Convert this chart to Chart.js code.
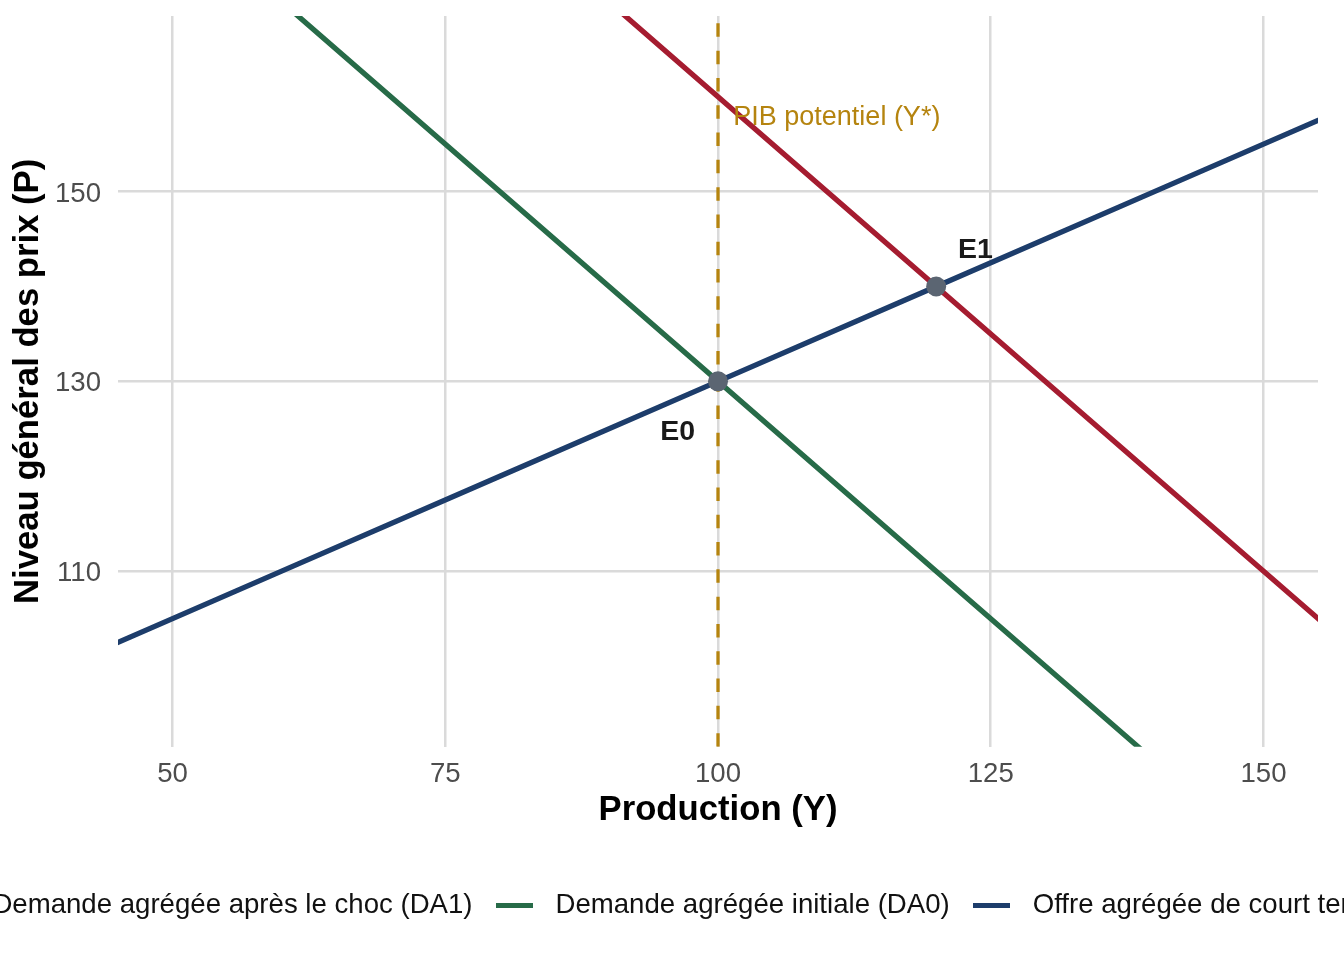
<!DOCTYPE html>
<html lang="fr">
<head>
<meta charset="utf-8">
<title>Offre et demande agrégées</title>
<script src="https://cdn.jsdelivr.net/npm/chart.js@4.4.1/dist/chart.umd.min.js"></script>
<style>
  html, body { margin:0; padding:0; background:#ffffff; width:1344px; height:960px; overflow:hidden; }
  #wrap { position:absolute; top:0; left:-200px; width:2000px; height:960px; }
</style>
</head>
<body>
<div id="wrap"><canvas id="chart"></canvas></div>
<script>
// ---------------- data ----------------
const outputLevels   = [40, 60, 80, 100, 120, 140, 160];
const demandShock    = [220, 200, 180, 160, 140, 120, 100]; // DA1
const demandInitial  = [190, 170, 150, 130, 110, 90, 70];   // DA0
const supplyShortRun = [100, 110, 120, 130, 140, 150, 160]; // offre CT
const potentialOutput = [100, 100];
const potentialPrice  = [80, 180];
const equilibriumNames  = ['E0', 'E1'];
const equilibriumOutput = [100, 120];
const equilibriumPrice  = [130, 140];
const equilibriumLabelOutput = [96.3, 123.6];
const equilibriumLabelPrice  = [124.7, 143.85];
const potentialLabelText   = ['PIB potentiel (Y*)'];
const potentialLabelOutput = [101.4];
const potentialLabelPrice  = [157.75];
const xTickValues = [50, 75, 100, 125, 150];
const yTickValues = [110, 130, 150];
const xRange = [45, 155];
const yRange = [91.5, 168.5];
const seriesNames = [
  'Demande agrégée après le choc (DA1)',
  'Demande agrégée initiale (DA0)',
  'Offre agrégée de court terme (OACT)'
];

// ---------------- style / layout ----------------
const COL = { da1:'#A51C30', da0:'#276B48', oa:'#1D3D6B', pot:'#B5840F', point:'#5B6572', grid:'#DADADA', tick:'#4D4D4D', text:'#111111' };
const FAMILY = '"Liberation Sans", Arial, Helvetica, sans-serif';
Chart.defaults.font.family = FAMILY;
const OFF = 200, W = 2000;
const PLOT_L = 118 + OFF, PLOT_R = 1318 + OFF, PLOT_T = 16;
const TICK_FS = 27.6, TITLE_FS = 34.7, LEG_FS = 27.6;
const KEY_W = 37, KEY_H = 5, KEY_GAP = 23, KEY2_LEFT = 495.5;
const PAD_B = 30.9, X_AXIS_H = 131, X_TITLE_PB = 46.4;
const LINE_W = 5.3;

const mctx = document.createElement('canvas').getContext('2d');
mctx.font = LEG_FS + 'px ' + FAMILY;
const tw = seriesNames.map(s => mctx.measureText(s).width);
const BOXW = 2 * (KEY_GAP + KEY_W / 2) - LEG_FS;
const KEY_OFF = BOXW / 2 - KEY_W / 2;
const LPAD = KEY_GAP - KEY_OFF;
const itemW = tw.map(t => BOXW + LEG_FS / 2 + t);
const x2 = KEY2_LEFT - KEY_OFF;
const x1 = x2 - itemW[0] - LPAD;
const xEnd = x2 + itemW[1] + LPAD + itemW[2];
const CENTER = (x1 + xEnd) / 2;
const RIGHT_BOX = 2 * CENTER - 1318 + OFF;
const PAD_R = W - PLOT_R - RIGHT_BOX;

function keyImage(color) {
  const c = document.createElement('canvas');
  c.width = KEY_W; c.height = KEY_H;
  const g = c.getContext('2d');
  g.fillStyle = color; g.fillRect(0, 0, KEY_W, KEY_H);
  return c;
}
const pts = (xs, ys) => xs.map((v, i) => ({ x: v, y: ys[i] }));

const annotationPlugin = {
  id: 'annotText',
  afterDatasetsDraw(chart) {
    const { ctx, scales: { x, y } } = chart;
    ctx.save();
    ctx.textBaseline = 'middle';
    ctx.font = '27px ' + FAMILY;
    ctx.fillStyle = COL.pot;
    ctx.textAlign = 'left';
    potentialLabelText.forEach((t, i) => {
      ctx.fillText(t, x.getPixelForValue(potentialLabelOutput[i]), y.getPixelForValue(potentialLabelPrice[i]));
    });
    ctx.font = 'bold 28.5px ' + FAMILY;
    ctx.fillStyle = '#1a1a1a';
    ctx.textAlign = 'center';
    equilibriumNames.forEach((t, i) => {
      ctx.fillText(t, x.getPixelForValue(equilibriumLabelOutput[i]), y.getPixelForValue(equilibriumLabelPrice[i]));
    });
    ctx.restore();
  }
};

const gridOpts = { color: COL.grid, lineWidth: 2.5, drawTicks: false };
const noPadX = s => { s.height = X_AXIS_H; s.paddingLeft = 0; s.paddingRight = 0; };
const noPadY = w => s => { s.width = w; s.paddingTop = 0; s.paddingBottom = 0; };

new Chart(document.getElementById('chart'), {
  type: 'scatter',
  data: {
    datasets: [
      { label: 'Équilibres', data: pts(equilibriumOutput, equilibriumPrice), showLine: false,
        pointRadius: 10, pointBackgroundColor: COL.point, pointBorderWidth: 0, inLegend: false },
      { label: seriesNames[0], data: pts(outputLevels, demandShock), showLine: true,
        borderColor: COL.da1, backgroundColor: COL.da1, borderWidth: LINE_W, pointRadius: 0, inLegend: true },
      { label: seriesNames[1], data: pts(outputLevels, demandInitial), showLine: true,
        borderColor: COL.da0, backgroundColor: COL.da0, borderWidth: LINE_W, pointRadius: 0, inLegend: true },
      { label: seriesNames[2], data: pts(outputLevels, supplyShortRun), showLine: true,
        borderColor: COL.oa, backgroundColor: COL.oa, borderWidth: LINE_W, pointRadius: 0, inLegend: true },
      { label: 'PIB potentiel', data: pts(potentialOutput, potentialPrice), showLine: true,
        borderColor: COL.pot, borderWidth: 3.3, borderDash: [13.5, 13.8], pointRadius: 0, inLegend: false }
    ]
  },
  options: {
    responsive: true,
    maintainAspectRatio: false,
    animation: false,
    events: [],
    layout: { padding: { left: 0, right: PAD_R, top: PLOT_T, bottom: PAD_B } },
    elements: { line: { tension: 0 } },
    scales: {
      x: {
        type: 'linear', min: xRange[0], max: xRange[1],
        afterBuildTicks: s => { s.ticks = xTickValues.map(v => ({ value: v })); },
        ticks: { font: { size: TICK_FS }, color: COL.tick, padding: 11, maxRotation: 0, autoSkip: false },
        grid: gridOpts,
        border: { display: false },
        title: { display: true, text: 'Production (Y)', color: '#000',
                 font: { size: TITLE_FS, weight: 'bold' }, padding: { top: 0, bottom: X_TITLE_PB } },
        afterFit: noPadX
      },
      y: {
        type: 'linear', position: 'left', min: yRange[0], max: yRange[1],
        afterBuildTicks: s => { s.ticks = yTickValues.map(v => ({ value: v })); },
        ticks: { font: { size: TICK_FS }, color: COL.tick, padding: 17, labelOffset: 2.5 },
        grid: gridOpts,
        border: { display: false },
        title: { display: true, text: 'Niveau général des prix (P)', color: '#000',
                 font: { size: TITLE_FS, weight: 'bold' }, padding: { top: 207.2, bottom: 0 } },
        afterFit: noPadY(PLOT_L)
      },
      yR: {
        type: 'linear', position: 'right', display: true,
        grid: { display: false, drawTicks: false }, border: { display: false },
        ticks: { display: false },
        afterFit: noPadY(RIGHT_BOX)
      }
    },
    plugins: {
      tooltip: { enabled: false },
      legend: {
        display: true,
        position: 'bottom',
        align: 'center',
        labels: {
          usePointStyle: true,
          pointStyleWidth: BOXW,
          padding: LPAD,
          color: COL.text,
          font: { size: LEG_FS },
          generateLabels: chart => chart.data.datasets
            .map((ds, i) => ({ ds, i }))
            .filter(o => o.ds.inLegend)
            .map(o => ({
              text: o.ds.label,
              datasetIndex: o.i,
              pointStyle: keyImage(o.ds.borderColor),
              fillStyle: o.ds.borderColor,
              strokeStyle: o.ds.borderColor,
              lineWidth: 0,
              hidden: false,
              fontColor: COL.text
            }))
        }
      }
    }
  },
  plugins: [annotationPlugin]
});
</script>
</body>
</html>
